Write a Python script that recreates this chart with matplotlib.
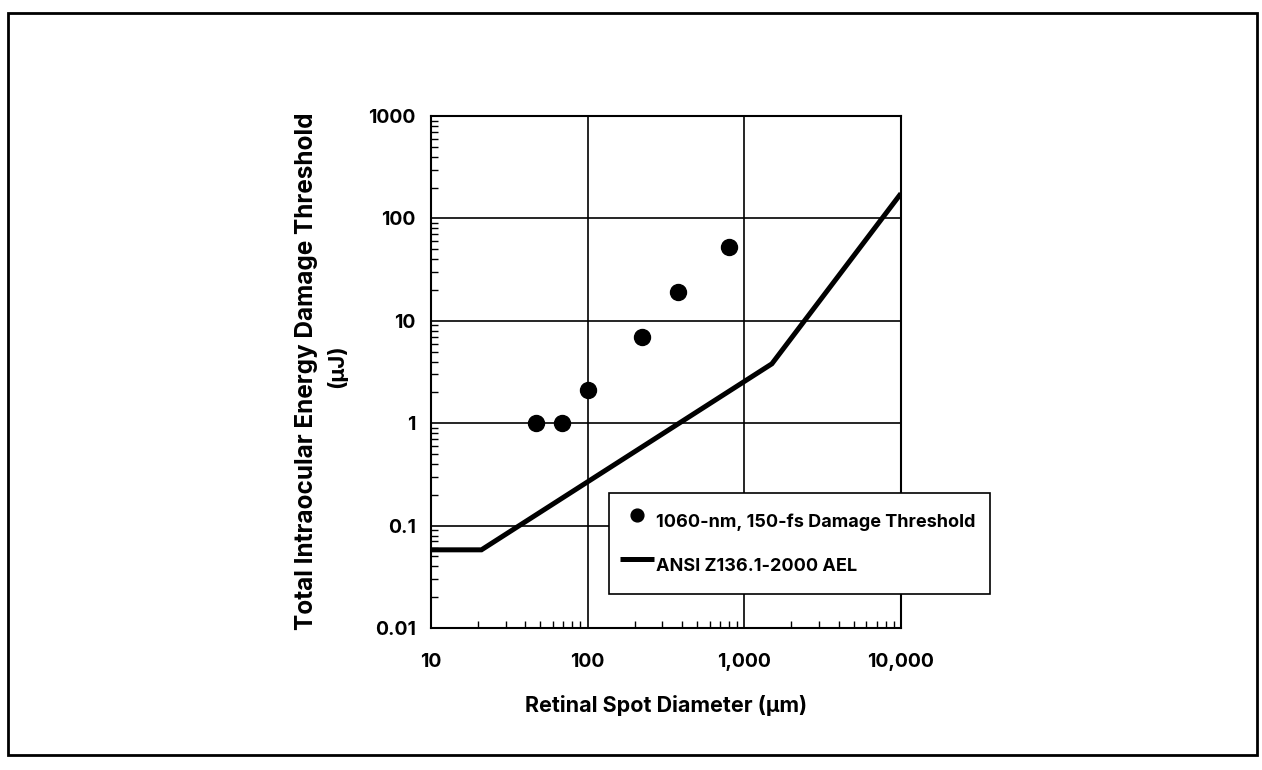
import numpy as np
import matplotlib.pyplot as plt
from matplotlib.ticker import LogLocator, NullFormatter, FixedLocator
from matplotlib.patches import Rectangle

# damage threshold measurements
spot_um = [47, 69, 100, 222, 375, 795]
threshold_uj = [1.0, 1.0, 2.1, 7.0, 19.0, 52.0]

# ANSI AEL curve (break points)
ael_spot = [10, 21, 1500, 10000]
ael_energy = [0.058, 0.058, 3.8, 175]

x_ticks = [10, 100, 1000, 10000]
x_labels = ["10", "100", "1,000", "10,000"]
y_ticks = [0.01, 0.1, 1, 10, 100, 1000]
y_labels = ["0.01", "0.1", "1", "10", "100", "1000"]

plt.rcParams['font.family'] = ['Inter', 'DejaVu Sans']
plt.rcParams['font.weight'] = 'bold'

fig = plt.figure(figsize=(12.62, 7.70), dpi=100)
ax = fig.add_axes([0.3415, 0.1844, 0.3724, 0.665])

ax.plot(ael_spot, ael_energy, color='black', lw=3.6, solid_capstyle='butt',
        solid_joinstyle='miter', label='ANSI Z136.1-2000 AEL', zorder=3)
ax.plot(spot_um, threshold_uj, 'o', color='black', ms=11.5, ls='none',
        label='1060-nm, 150-fs Damage Threshold', zorder=4)

ax.set_xscale('log')
ax.set_yscale('log')
ax.set_xlim(10, 10000)
ax.set_ylim(0.01, 1000)

ax.xaxis.set_major_locator(FixedLocator(x_ticks))
ax.set_xticklabels(x_labels)
ax.yaxis.set_major_locator(FixedLocator(y_ticks))
ax.set_yticklabels(y_labels)
ax.xaxis.set_minor_locator(LogLocator(base=10, subs=np.arange(2, 10)))
ax.yaxis.set_minor_locator(LogLocator(base=10, subs=np.arange(2, 10)))
ax.xaxis.set_minor_formatter(NullFormatter())
ax.yaxis.set_minor_formatter(NullFormatter())

ax.tick_params(which='major', length=0, labelsize=14, pad=11)
ax.tick_params(which='minor', direction='in', length=5, width=1, color='black')
ax.tick_params(axis='x', which='major', pad=18)
for lab in ax.get_xticklabels() + ax.get_yticklabels():
    lab.set_fontweight('bold')

ax.grid(True, which='major', color='black', lw=1.2)
for s in ax.spines.values():
    s.set_linewidth(1.5)

ax.set_xlabel('Retinal Spot Diameter (\u03bcm)', fontsize=15.5, fontweight='bold', labelpad=17)

# y label: main line plus the unit just to its right
fig.text(306 / 1262, 1 - 371 / 770, 'Total Intraocular Energy Damage Threshold',
         rotation=90, ha='center', va='center', fontsize=17.5, fontweight='bold')
fig.text(337 / 1262, 1 - 366 / 770, '(\u03bcJ)', rotation=90, ha='center',
         va='center', fontsize=16, fontweight='bold')

handles, labels = ax.get_legend_handles_labels()
leg = ax.legend(handles[::-1], labels[::-1], loc='upper left',
                bbox_to_anchor=(0.379, 0.264, 0.81, 0.0), mode='expand',
                fancybox=False, edgecolor='black', framealpha=1,
                prop={'weight': 'bold', 'size': 13}, handlelength=1.85,
                handleheight=2.6, handletextpad=0.15, labelspacing=0.5,
                borderpad=0.62, borderaxespad=0, markerscale=0.8)
leg.get_frame().set_linewidth(1.2)
leg.set_zorder(5)

# outer frame of the scanned figure
fig.patches.append(Rectangle((0.006, 0.02), 0.99, 0.963, transform=fig.transFigure,
                             fill=False, edgecolor='black', lw=2))

fig.savefig('out.png', dpi=100)
